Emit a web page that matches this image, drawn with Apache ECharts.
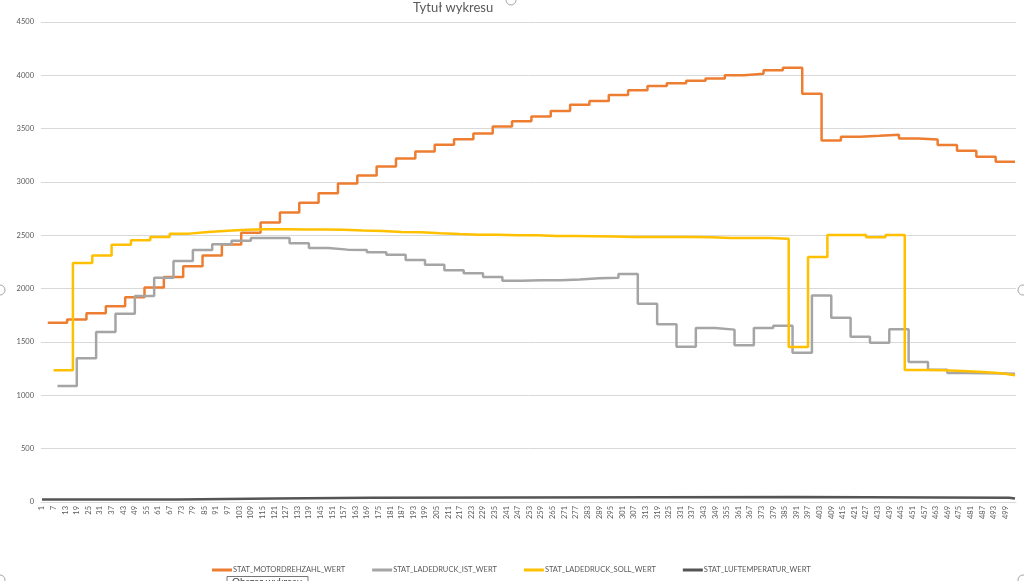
<!DOCTYPE html>
<html><head><meta charset="utf-8">
<script src="https://cdn.jsdelivr.net/npm/echarts@6/dist/echarts.min.js"></script>
<style>html,body{margin:0;padding:0;background:#fff}#c{width:1024px;height:581px}</style>
</head><body><div id="c"></div>
<script>
// ---------- DATA ----------
const CATEGORY_COUNT = 504;
const categories = [];
for (let i = 1; i <= CATEGORY_COUNT; i++) categories.push(String(i));

const seriesNames = ['STAT_MOTORDREHZAHL_WERT', 'STAT_LADEDRUCK_IST_WERT', 'STAT_LADEDRUCK_SOLL_WERT', 'STAT_LUFTEMPERATUR_WERT'];
const chartTitle = 'Tytuł wykresu';
const yTicks = [0, 500, 1000, 1500, 2000, 2500, 3000, 3500, 4000, 4500];

// Each series is stepwise: category label where a new value starts, and that value
const motorAt = [4,14,24,34,44,54,64,74,84,94,104,114,124,134,144,154,164,174,184,194,204,214,224,234,244,254,264,274,284,294,304,314,324,334,344,354,364,374,384,394,404,414,424,434,444,454,464,474,484,494,504];
const motorVal = [1680,1710,1770,1835,1920,2010,2110,2210,2310,2415,2525,2620,2715,2805,2895,2985,3060,3145,3220,3285,3350,3400,3455,3520,3570,3615,3665,3725,3760,3815,3860,3900,3925,3950,3970,4000,4015,4048,4072,3828,3390,3424,3433,3443,3408,3399,3346,3293,3236,3189,3189];

const istAt = [9,19,29,39,49,59,69,79,89,99,109,119,129,139,149,159,169,179,189,199,209,219,229,239,249,259,269,279,289,299,309,319,329,339,349,359,369,379,389,399,409,419,429,439,449,459,469,479,489,499,504];
const istVal = [1087,1347,1594,1766,1931,2103,2259,2362,2416,2450,2475,2475,2425,2381,2366,2362,2341,2319,2269,2225,2172,2144,2109,2075,2080,2080,2087,2097,2103,2137,1859,1666,1456,1631,1616,1469,1631,1652,1400,1937,1728,1550,1494,1619,1312,1241,1210,1208,1205,1203,1203];

const sollAt = [7,17,27,37,47,57,67,77,87,97,107,117,127,137,147,157,167,177,187,197,207,217,227,237,247,257,267,277,287,297,307,317,327,337,347,357,367,377,387,397,407,417,427,437,447,457,467,477,487,497,504];
const sollVal = [1234,2241,2312,2412,2453,2484,2516,2531,2544,2553,2557,2557,2555,2555,2553,2545,2541,2532,2528,2519,2512,2506,2506,2500,2500,2494,2494,2492,2490,2484,2484,2484,2484,2482,2475,2475,2474,2467,1453,2297,2503,2503,2481,2503,1237,1234,1228,1219,1206,1188,1185];

const luftAt = [1,71,121,171,391,501,504];
const luftVal = [24,32,40,48,40,32,32];

// ---------- CHART ----------
function pairs(at, val) { return at.map((c, i) => [categories.indexOf(String(c)), val[i]]); }
const colors = ['#ED7D31', '#A5A5A5', '#FFC000', '#555555'];
const stepData = [pairs(motorAt, motorVal), pairs(istAt, istVal), pairs(sollAt, sollVal), pairs(luftAt, luftVal)];

const chart = echarts.init(document.getElementById('c'), null, {renderer: 'canvas'});
const FONT = 'Lato, "Open Sans", sans-serif';
chart.setOption({
  animation: false,
  backgroundColor: '#ffffff',
  color: colors,
  grid: {left: 41, right: 8, top: 22, bottom: 79},
  xAxis: {
    type: 'category', data: categories, boundaryGap: true,
    axisLine: {lineStyle: {color: '#d9d9d9', width: 1}},
    axisTick: {show: false},
    axisLabel: {interval: 5, rotate: 90, fontSize: 7.5, color: '#595959', margin: 4, fontFamily: FONT},
    splitLine: {show: false}
  },
  yAxis: {
    type: 'value', min: yTicks[0], max: yTicks[yTicks.length - 1], interval: 500,
    axisLine: {show: false}, axisTick: {show: false},
    axisLabel: {fontSize: 7.5, color: '#595959', margin: 7, fontFamily: FONT, formatter: v => String(v)},
    splitLine: {lineStyle: {color: '#d9d9d9', width: 1}}
  },
  legend: {
    data: seriesNames, left: 207, top: 561, icon: 'rect', itemWidth: 20, itemHeight: 3, itemGap: 27,
    textStyle: {fontSize: 7.5, color: '#595959', fontFamily: FONT, padding: [0, 0, 0, -4]}
  },
  series: seriesNames.map((n, i) => ({
    name: n, type: 'line', step: 'end', data: stepData[i], showSymbol: false, symbol: 'none',
    lineStyle: {width: 2.5, color: colors[i]}, itemStyle: {color: colors[i]}
  })),
  graphic: [
    {type: 'text', left: 413, top: 1, style: {text: chartTitle, fontSize: 13, fill: '#595959', fontFamily: FONT}},
    {type: 'circle', shape: {cx: 511, cy: 0, r: 5}, style: {fill: '#fff', stroke: '#a6a6a6', lineWidth: 1}},
    {type: 'circle', shape: {cx: 0, cy: 290, r: 5}, style: {fill: '#fff', stroke: '#a6a6a6', lineWidth: 1}},
    {type: 'circle', shape: {cx: 1023, cy: 290, r: 5}, style: {fill: '#fff', stroke: '#a6a6a6', lineWidth: 1}},
    {type: 'circle', shape: {cx: 0, cy: 580, r: 5}, style: {fill: '#fff', stroke: '#a6a6a6', lineWidth: 1}},
    {type: 'circle', shape: {cx: 1023, cy: 580, r: 5}, style: {fill: '#fff', stroke: '#a6a6a6', lineWidth: 1}},
    {type: 'rect', shape: {x: 227, y: 576.5, width: 81, height: 16}, style: {fill: '#ffffff', stroke: '#767676', lineWidth: 1}},
    {type: 'text', left: 232, top: 577, style: {text: 'Obszar wykresu', fontSize: 10, fill: '#404040', fontFamily: FONT}}
  ]
});
</script></body></html>
